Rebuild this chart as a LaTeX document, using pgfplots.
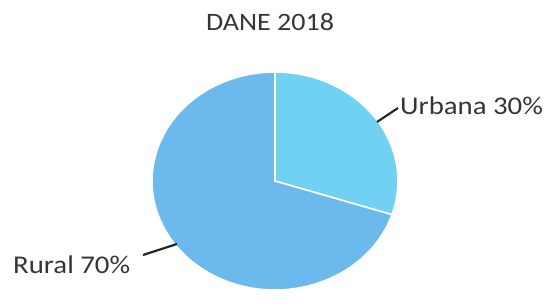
\documentclass[border=0pt]{standalone}
\usepackage{pgfplots}
\usepackage{pgfplotstable}
\usepackage{fontspec}
\setmainfont{Carlito}
\pgfplotsset{compat=1.18}
\definecolor{rural}{HTML}{6CBAED}
\definecolor{urbana}{HTML}{71D1F3}
\definecolor{txt}{HTML}{353535}
\pgfplotstableread{
label value
Urbana 30
Rural 70
}\piedata
\pgfplotstablegetelem{0}{value}\of\piedata \let\vU\pgfplotsretval
\pgfplotstablegetelem{1}{value}\of\piedata \let\vR\pgfplotsretval
\pgfmathsetmacro{\tot}{\vU+\vR}
\pgfmathsetmacro{\aU}{90-\vU/\tot*360}
\pgfmathsetmacro{\aR}{\aU-\vR/\tot*360}
\def\cx{275}\def\cy{110}\def\rx{123}\def\ry{109}
\pgfmathsetmacro{\xA}{\cx+\rx*cos(90)}
\pgfmathsetmacro{\yA}{\cy+\ry*sin(90)}
\pgfmathsetmacro{\xB}{\cx+\rx*cos(\aU)}
\pgfmathsetmacro{\yB}{\cy+\ry*sin(\aU)}
\begin{document}
\begin{tikzpicture}
\begin{axis}[
  width=549pt, height=291pt, scale only axis,
  xmin=0, xmax=549, ymin=0, ymax=291,
  hide axis, clip=false]
\path (axis cs:0,0) rectangle (axis cs:549,291);
% Urbana slice
\filldraw[fill=urbana, draw=white, line width=1.6pt]
  (axis cs:\cx,\cy) -- (axis cs:\xA,\yA)
  arc[start angle=90, end angle=\aU, x radius=\rx pt, y radius=\ry pt] -- cycle;
% Rural slice
\filldraw[fill=rural, draw=white, line width=1.6pt]
  (axis cs:\cx,\cy) -- (axis cs:\xB,\yB)
  arc[start angle=\aU, end angle=\aR, x radius=\rx pt, y radius=\ry pt] -- cycle;
% leader lines
\draw[black!85, line width=2.2pt] (axis cs:377,169) -- (axis cs:398,183);
\draw[black!85, line width=2.2pt] (axis cs:143,36) -- (axis cs:177,47);
% labels
\node[anchor=west, text=txt, inner sep=0pt] at (axis cs:400,185)
  {\scalebox{1.13}[1]{\fontsize{25.5}{30}\selectfont Urbana \vU\%}};
\node[anchor=west, text=txt, inner sep=0pt] at (axis cs:13,26)
  {\scalebox{1.13}[1]{\fontsize{25.5}{30}\selectfont Rural \vR\%}};
\node[anchor=center, text=txt, inner sep=0pt] at (axis cs:270,269)
  {\scalebox{1.12}[1]{\fontsize{25}{30}\selectfont DANE 2018}};
\end{axis}
\end{tikzpicture}
\end{document}
